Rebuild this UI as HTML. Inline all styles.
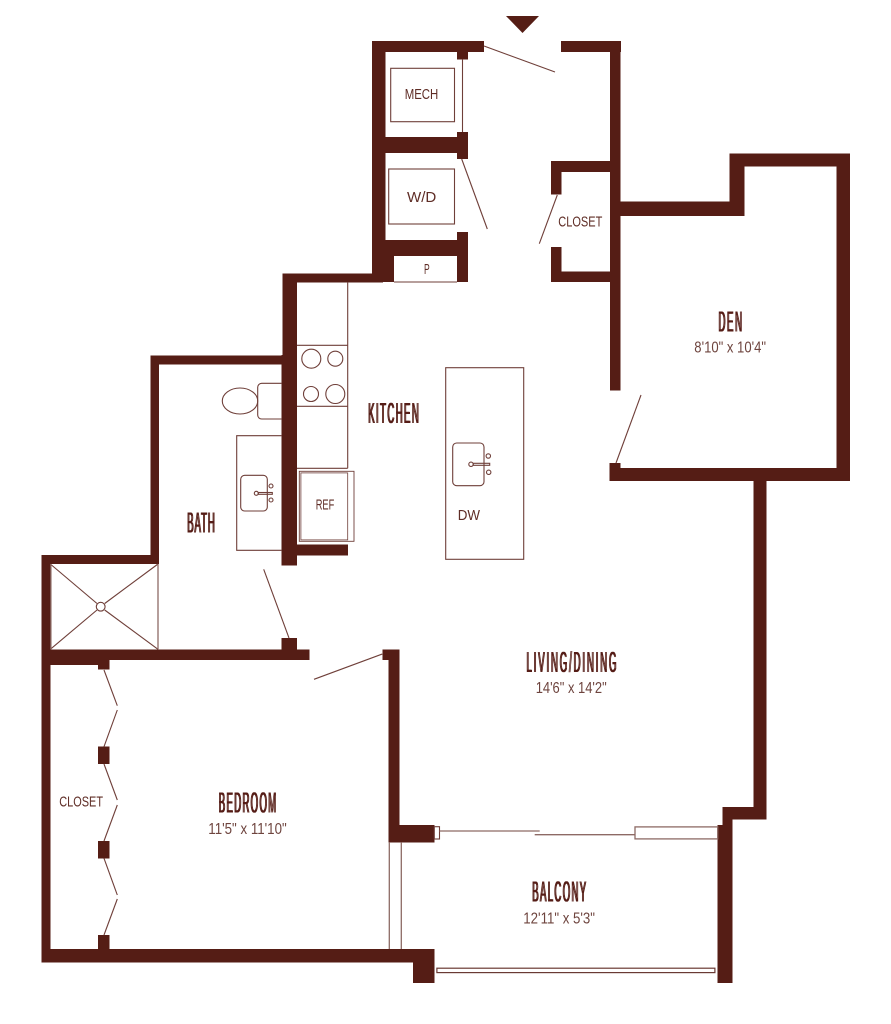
<!DOCTYPE html>
<html>
<head>
<meta charset="utf-8">
<style>
html,body{margin:0;padding:0;background:#fff}
svg{display:block}
.t{font-family:"Liberation Sans",sans-serif;font-size:29px;fill:#551d15}
.d{font-family:"Liberation Sans",sans-serif;font-size:15.5px;fill:#6e443e}
.l{font-family:"Liberation Sans",sans-serif;font-size:14.5px;fill:#5f2d26}
.thin{fill:none;stroke:#6f3f39;stroke-width:1.1}
.pale{fill:none;stroke:#8d6a65;stroke-width:1.3}
</style>
</head>
<body>
<svg width="891" height="1024" viewBox="0 0 891 1024" xmlns="http://www.w3.org/2000/svg">
<defs>
<filter id="fat" x="-5%" y="-5%" width="110%" height="110%">
<feOffset in="SourceGraphic" dx="1" dy="0" result="o"/>
<feMerge><feMergeNode in="SourceGraphic"/><feMergeNode in="o"/></feMerge>
</filter>
</defs>
<rect width="891" height="1024" fill="#fff"/>

<polygon points="506,16 539,16 522.5,33" fill="#551d15"/>

<g fill="#551d15" shape-rendering="crispEdges">
<!-- entry / utility block -->
<rect x="372" y="41" width="112" height="11"/>
<rect x="457" y="52" width="11" height="7.3"/>
<rect x="372" y="41" width="13.7" height="241"/>
<rect x="372" y="137" width="96" height="16"/>
<rect x="457" y="132" width="11" height="27"/>
<rect x="372" y="240" width="96" height="16"/>
<rect x="457" y="232" width="11" height="50"/>
<rect x="372" y="256" width="22" height="26"/>
<rect x="283" y="273.3" width="100" height="9"/>
<!-- right corridor wall -->
<rect x="561" y="41" width="60" height="11"/>
<rect x="610" y="41" width="10.7" height="349.7"/>
<rect x="551" y="161" width="60" height="11"/>
<rect x="551" y="161" width="10.6" height="33.7"/>
<rect x="551" y="247" width="10.6" height="35"/>
<rect x="551" y="271.7" width="60" height="10.3"/>
<!-- den -->
<rect x="620" y="201.7" width="124.3" height="14.3"/>
<rect x="729.7" y="153.3" width="14.6" height="62.7"/>
<rect x="729.7" y="153.3" width="120.3" height="13.4"/>
<rect x="836.7" y="153.3" width="13.3" height="327.7"/>
<rect x="609.7" y="468" width="240.3" height="13"/>
<rect x="609.7" y="463" width="11" height="18"/>
<!-- right lower -->
<rect x="753.3" y="480" width="13.4" height="339.3"/>
<rect x="722.7" y="807" width="44" height="12.3"/>
<rect x="722.7" y="807" width="10" height="20"/>
<rect x="717.7" y="825" width="15" height="158"/>
<!-- kitchen wall -->
<rect x="282.7" y="273.3" width="14.3" height="82"/>
<rect x="281.7" y="355" width="15.3" height="210.3"/>
<rect x="297" y="544.7" width="51" height="10.6"/>
<!-- bath -->
<rect x="150.3" y="355.7" width="132.4" height="9"/>
<rect x="150.3" y="355.7" width="8.9" height="208.3"/>
<rect x="41.7" y="555" width="117.5" height="9"/>
<rect x="41.7" y="555" width="8.6" height="407.3"/>
<!-- bedroom top wall -->
<rect x="41.7" y="649.3" width="267.6" height="10.7"/>
<rect x="41.7" y="660" width="56.3" height="5"/>
<rect x="98" y="660" width="11.3" height="9.7"/>
<rect x="281.7" y="638" width="15.3" height="12"/>
<!-- closet bifold posts -->
<rect x="98" y="746.7" width="11.3" height="17.3"/>
<rect x="98" y="841" width="11.3" height="17.3"/>
<rect x="98" y="935" width="11.3" height="15"/>
<!-- bedroom bottom -->
<rect x="41.7" y="949" width="392.6" height="13.3"/>
<rect x="413" y="949" width="21.3" height="34"/>
<!-- bedroom right wall -->
<rect x="382.3" y="649.3" width="17" height="10.7"/>
<rect x="388.7" y="649.3" width="10.6" height="176"/>
<rect x="388.7" y="825" width="45.6" height="17.7"/>
</g>

<!-- doors -->
<g class="thin">
<line x1="484" y1="46" x2="555" y2="72"/>
<line x1="461.7" y1="159" x2="487.3" y2="229"/>
<line x1="557.3" y1="195" x2="539.3" y2="243.7"/>
<line x1="616" y1="463" x2="641" y2="395"/>
<line x1="263.7" y1="569.3" x2="289" y2="638"/>
<line x1="314" y1="679.3" x2="382.3" y2="654"/>
<polyline points="104,670 117.3,705.7"/>
<polyline points="117.3,710 104,746.7"/>
<polyline points="104,764 117.3,800"/>
<polyline points="117.3,805 104,841"/>
<polyline points="104,858.3 117.3,895"/>
<polyline points="117.3,899 104,935"/>
<line x1="462.5" y1="59" x2="462.5" y2="132"/>
<!-- utility boxes -->
<rect x="390.7" y="68.3" width="63.8" height="53.4"/>
<rect x="388.7" y="169" width="65.8" height="55"/>
<line x1="394" y1="282" x2="457" y2="282"/>
<!-- counters -->
<line x1="347.7" y1="282" x2="347.7" y2="468.3"/>
<line x1="297" y1="345.3" x2="347.7" y2="345.3"/>
<line x1="297" y1="406.3" x2="347.7" y2="406.3"/>
<line x1="297" y1="468.3" x2="347.7" y2="468.3"/>
<circle cx="311.3" cy="358.7" r="9.5"/>
<circle cx="335.3" cy="358.7" r="7.5"/>
<circle cx="311" cy="394" r="7.5"/>
<circle cx="335.3" cy="394" r="9.5"/>
<!-- ref -->
<rect x="299.3" y="471.3" width="54.7" height="70" stroke-width="0.9"/>
<rect x="300.9" y="472.9" width="46.8" height="67" stroke-width="0.8"/>
<!-- toilet -->
<ellipse cx="240" cy="401" rx="17.7" ry="13"/>
<path d="M282 383.3H261.7a4 4 0 0 0-4 4V415a4 4 0 0 0 4 4H282"/>
<!-- vanity -->
<path d="M282 435.7H236.7V550.3H282"/>
<rect x="240.7" y="475.3" width="26.6" height="35.7" rx="4"/>
<circle cx="256.3" cy="493.3" r="2"/>
<circle cx="271" cy="486" r="2"/>
<circle cx="271" cy="500" r="2"/>
<rect x="258.3" y="492.5" width="14" height="1.8"/>
<!-- island -->
<rect x="445.7" y="367.7" width="78" height="191.6"/>
<rect x="452.7" y="443" width="31.3" height="42.7" rx="4"/>
<circle cx="471" cy="464.3" r="2.2"/>
<circle cx="488.3" cy="456" r="2.2"/>
<circle cx="488.7" cy="472.3" r="2.2"/>
<rect x="473.2" y="463.3" width="16.5" height="2"/>
<!-- shower -->
<line x1="50.3" y1="564" x2="97" y2="603.5"/>
<line x1="158" y1="564" x2="104.7" y2="603.5"/>
<line x1="50.3" y1="649.3" x2="97" y2="610"/>
<line x1="158" y1="649.3" x2="104.7" y2="610"/>
<circle cx="100.7" cy="606.7" r="4.4"/>
<rect x="434.3" y="826.7" width="5.2" height="12.3"/>
</g>
<g class="pale">
<line x1="158" y1="564" x2="158" y2="649.3"/>
<line x1="50.9" y1="564" x2="50.9" y2="649.3"/>
<line x1="389.3" y1="842.7" x2="389.3" y2="949"/>
<line x1="401.3" y1="842.7" x2="401.3" y2="949"/>
<line x1="439.5" y1="831" x2="539.7" y2="831"/>
<line x1="534.7" y1="834.7" x2="635" y2="834.7"/>
<rect x="635" y="826.9" width="82.7" height="12"/>
</g>
<rect x="436.9" y="968.2" width="278" height="4.4" fill="none" stroke="#6a3a34" stroke-width="1.2"/>

<!-- room titles -->
<g filter="url(#fat)">
<text class="t" transform="translate(718,331.5) scale(.33,1)" textLength="71.2" lengthAdjust="spacing">DEN</text>
<text class="t" transform="translate(367.7,423) scale(.33,1)" textLength="153.3" lengthAdjust="spacing">KITCHEN</text>
<text class="t" transform="translate(186.7,532.5) scale(.33,1)" textLength="83.6" lengthAdjust="spacing">BATH</text>
<text class="t" transform="translate(526,672) scale(.33,1)" textLength="272.7" lengthAdjust="spacing">LIVING/DINING</text>
<text class="t" transform="translate(218.3,812.5) scale(.33,1)" textLength="173.9" lengthAdjust="spacing">BEDROOM</text>
<text class="t" transform="translate(531.7,901.5) scale(.33,1)" textLength="163.6" lengthAdjust="spacing">BALCONY</text>
</g>

<!-- dimensions -->
<text class="d" x="694.3" y="352.7" textLength="71.7" lengthAdjust="spacingAndGlyphs">8'10" x 10'4"</text>
<text class="d" x="535.7" y="693" textLength="71" lengthAdjust="spacingAndGlyphs">14'6" x 14'2"</text>
<text class="d" x="208.3" y="834" textLength="78.4" lengthAdjust="spacingAndGlyphs">11'5" x 11'10"</text>
<text class="d" x="523.3" y="923.3" textLength="71.7" lengthAdjust="spacingAndGlyphs">12'11" x 5'3"</text>

<!-- small labels -->
<text class="l" x="404.7" y="99" textLength="33.6" lengthAdjust="spacingAndGlyphs">MECH</text>
<text class="l" x="407" y="202" textLength="29.3" lengthAdjust="spacingAndGlyphs">W/D</text>
<text class="l" x="558.3" y="226.7" textLength="44" lengthAdjust="spacingAndGlyphs">CLOSET</text>
<text class="l" x="424" y="274" textLength="5.7" lengthAdjust="spacingAndGlyphs">P</text>
<text class="l" x="315.7" y="509.7" textLength="18.6" lengthAdjust="spacingAndGlyphs">REF</text>
<text class="l" x="457.7" y="520" textLength="22.3" lengthAdjust="spacingAndGlyphs">DW</text>
<text class="l" x="59.3" y="806.7" textLength="43.7" lengthAdjust="spacingAndGlyphs">CLOSET</text>
</svg>
</body>
</html>
